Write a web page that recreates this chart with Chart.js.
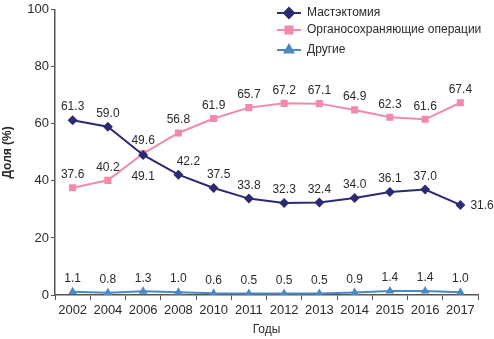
<!DOCTYPE html>
<html><head><meta charset="utf-8">
<script src="https://cdn.jsdelivr.net/npm/chart.js@4/dist/chart.umd.min.js"></script>
<style>html,body{margin:0;padding:0;background:#fff}#wrap{width:494px;height:339px}</style>
</head><body><div id="wrap"><canvas id="c" width="494" height="339"></canvas></div>
<script>
const years = ['2002','2004','2006','2008','2010','2011','2012','2013','2014','2015','2016','2017'];
const mastectomy = [61.3,59.0,49.1,42.2,37.5,33.8,32.3,32.4,34.0,36.1,37.0,31.6];
const organSparing = [37.6,40.2,49.6,56.8,61.9,65.7,67.2,67.1,64.9,62.3,61.6,67.4];
const other = [1.1,0.8,1.3,1.0,0.6,0.5,0.5,0.5,0.9,1.4,1.4,1.0];
const seriesNames = ['Мастэктомия','Органосохраняющие операции','Другие'];
const yTicks = [0,20,40,60,80,100];

const FONT = 'Liberation Sans, Arial, sans-serif';
const TXT = '#2b2b2b';

const labelPlugin = {
  id: 'valLabels',
  afterDatasetsDraw(chart) {
    const ctx = chart.ctx;
    ctx.save();
    ctx.font = '12px ' + FONT;
    ctx.fillStyle = TXT;
    ctx.textBaseline = 'middle';
    chart.data.datasets.forEach((ds, di) => {
      const meta = chart.getDatasetMeta(di);
      meta.data.forEach((pt, i) => {
        let x = pt.x, y = pt.y - 13, align = 'center';
        if (di === 0 && i === 2) { y = pt.y + 22; }
        if (di === 0 && i === 11) { x = pt.x + 10; y = pt.y + 1; align = 'left'; }
        if (di === 0 && i === 3) { x = pt.x + 10; }
        if (di === 0 && i === 4) { x = pt.x + 5; }
        ctx.textAlign = align;
        ctx.fillText(ds.data[i].toFixed(1), x, y);
      });
    });
    ctx.restore();
  }
};

const legendPlugin = {
  id: 'lineLegend',
  afterDraw(chart) {
    const ctx = chart.ctx;
    ctx.save();
    const x0 = 277, rows = [13, 30, 50];
    chart.data.datasets.forEach((ds, di) => {
      const y = rows[di];
      ctx.strokeStyle = ds.borderColor;
      ctx.lineWidth = 2;
      ctx.beginPath(); ctx.moveTo(x0, y); ctx.lineTo(x0 + 24, y); ctx.stroke();
      Chart.helpers.drawPoint(ctx, {pointStyle: ds.pointStyle, radius: ds.pointRadius, rotation: ds.pointRotation || 0, borderWidth: 1}, x0 + 12, y);
      ctx.fillStyle = ds.borderColor;
      ctx.fill();
      ctx.font = '12px ' + FONT;
      ctx.fillStyle = TXT;
      ctx.textAlign = 'left';
      ctx.textBaseline = 'middle';
      ctx.fillText(ds.label, x0 + 30, y);
    });
    ctx.restore();
  }
};

new Chart(document.getElementById('c'), {
  type: 'line',
  data: {
    labels: years,
    datasets: [
      {label: seriesNames[0], data: mastectomy, borderColor: '#2c2a72', backgroundColor: '#2c2a72', pointStyle: 'rectRot', pointRadius: 5, pointBorderWidth: 0, borderWidth: 2, tension: 0},
      {label: seriesNames[1], data: organSparing, borderColor: '#f28aaa', backgroundColor: '#f28aaa', pointStyle: 'rect', pointRadius: 5, pointBorderWidth: 0, borderWidth: 2, tension: 0},
      {label: seriesNames[2], data: other, borderColor: '#4a88c7', backgroundColor: '#4a88c7', pointStyle: 'triangle', pointRadius: 5, pointBorderWidth: 0, borderWidth: 2, tension: 0}
    ]
  },
  options: {
    responsive: false,
    animation: false,
    devicePixelRatio: 1,
    layout: {padding: {top: 7, right: 16, left: 0, bottom: 0}},
    plugins: {legend: {display: false}, tooltip: {enabled: false}},
    scales: {
      x: {
        offset: true,
        grid: {display: true, offset: true, drawOnChartArea: false, drawTicks: true, tickLength: 5, color: '#555', tickWidth: 1},
        border: {display: true, color: '#555', width: 1.5},
        ticks: {font: {family: FONT, size: 13}, color: TXT, padding: 3, maxRotation: 0, autoSkip: false},
        title: {display: true, text: 'Годы', font: {family: FONT, size: 12}, color: TXT, padding: {top: 4, bottom: 2}},
        afterFit(s) { s.height = 44; }
      },
      y: {
        min: 0, max: 100,
        afterBuildTicks(s) { s.ticks = yTicks.map(v => ({value: v})); },
        grid: {display: true, drawOnChartArea: false, drawTicks: true, tickLength: 4, color: '#555'},
        border: {display: true, color: '#555', width: 1.5},
        ticks: {font: {family: FONT, size: 13}, color: TXT, padding: 2},
        title: {display: true, text: 'Доля (%)', font: {family: FONT, size: 12, weight: 'bold'}, color: TXT, padding: {top: 0, bottom: 4}},
        afterFit(s) { s.width = 55; }
      }
    }
  },
  plugins: [labelPlugin, legendPlugin]
});
</script></body></html>
